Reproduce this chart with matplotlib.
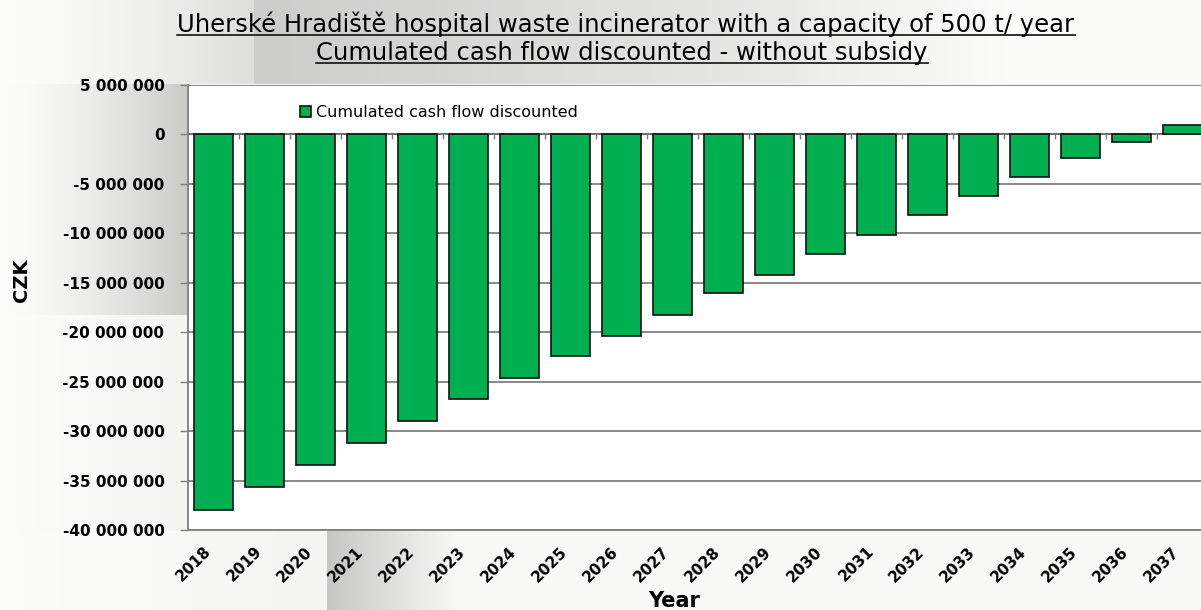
import numpy as np
import matplotlib
matplotlib.use("Agg")
import matplotlib.pyplot as plt
from matplotlib.lines import Line2D

# ---- data ----
years = [str(y) for y in range(2018, 2038)]
cash_flow = [-38.0e6, -35.7e6, -33.4e6, -31.2e6, -29.0e6, -26.8e6, -24.6e6,
             -22.4e6, -20.4e6, -18.3e6, -16.1e6, -14.2e6, -12.1e6, -10.2e6,
             -8.2e6, -6.2e6, -4.3e6, -2.4e6, -0.75e6, 0.95e6]
y_ticks = list(range(-40_000_000, 5_000_001, 5_000_000))
series_name = "Cumulated cash flow discounted"
title_line1 = "Uherské Hradiště hospital waste incinerator with a capacity of 500 t/ year"
title_line2 = "Cumulated cash flow discounted - without subsidy"

W, H = 1201, 610
fig = plt.figure(figsize=(W / 100, H / 100), dpi=100)

# ---- slide-like background ----
bg = np.full((H, W), 0.975)
xx = np.arange(W)[None, :].repeat(H, 0).astype(float)
yy = np.arange(H)[:, None].repeat(W, 1).astype(float)
# upper-left gradient
m = (xx < 190) & (yy < 315) & (yy >= 84)
bg[m] = (0.99 - 0.20 * (xx / 190) ** 1.5)[m]
m = (xx < 254) & (yy < 84)
bg[m] = (0.99 - 0.12 * (xx / 254) ** 1.5)[m]
# lower-left faint gradient
m = (xx < 190) & (yy >= 315)
bg[m] = (0.99 - 0.03 * (xx / 190))[m]
# top band
m = (yy < 84) & (xx >= 254) & (xx < 808)
bg[m] = (0.80 + 0.12 * ((xx - 254) / 554))[m]
m = (yy < 84) & (xx >= 808)
bg[m] = np.clip(0.93 + 0.07 * ((xx - 808) / 250), 0.93, 0.985)[m]
# bottom band
m = (yy > 530) & (xx >= 327) & (xx < 460)
bg[m] = (0.78 + 0.20 * ((xx - 327) / 133))[m]
m = (yy > 530) & (xx < 327)
bg[m] = (0.99 - 0.03 * (xx / 327))[m]
bgax = fig.add_axes([0, 0, 1, 1], zorder=-10)
bgax.imshow(np.dstack([bg, bg, bg * 0.995]), aspect="auto", extent=[0, 1, 0, 1])
bgax.axis("off")

# ---- main axes ----
ax = fig.add_axes([188 / W, 1 - 530 / H, 1020 / W, (530 - 84.7) / H])
ax.set_facecolor("white")
x = np.arange(len(years))
ax.bar(x, cash_flow, width=0.78, color="#00b050", edgecolor="#111111",
       linewidth=1.2, zorder=3, label=series_name)
ax.set_xlim(-0.5, len(years) - 0.5)
ax.set_ylim(y_ticks[0], y_ticks[-1])
ax.set_yticks(y_ticks)
ax.set_yticklabels([f"{v:,}".replace(",", " ") for v in y_ticks],
                   fontsize=11, fontweight="bold")
ax.yaxis.grid(True, color="#7f7f7f", linewidth=1.3, zorder=1)
ax.tick_params(axis="y", length=6, width=1.0, color="#7f7f7f", pad=11)
ax.set_xticks(x)
ax.set_xticklabels(years, rotation=45, ha="right", rotation_mode="default",
                   fontsize=11, fontweight="bold")
ax.tick_params(axis="x", length=0, pad=10)
for s in ["top", "right"]:
    ax.spines[s].set_visible(False)
ax.spines["left"].set_color("#7f7f7f")
ax.spines["left"].set_linewidth(1.3)
ax.spines["bottom"].set_color("#7f7f7f")
ax.spines["bottom"].set_linewidth(1.3)

# category-boundary tick marks along the zero line
bounds = x[:-1] + 0.5
tick_len = (y_ticks[-1] - y_ticks[0]) * 4.5 / 445
ax.vlines(bounds, 0, -tick_len, color="#7f7f7f", linewidth=1.0, zorder=2)
ax.axhline(0, color="#6f6f6f", linewidth=1.3, zorder=2)

# legend
ax.legend(loc="upper left", bbox_to_anchor=((294 - 188) / 1020, 1 - (99 - 84.7) / 445.3),
          frameon=False, fontsize=11.5, handlelength=0.65, handleheight=0.65,
          handletextpad=0.3, borderaxespad=0)

# axis titles
fig.text(674 / W, 1 - 601 / H, "Year", ha="center", va="center",
         fontsize=15, fontweight="bold")
fig.text(22 / W, 1 - 280 / H, "CZK", ha="center", va="center", rotation=90,
         fontsize=14, fontweight="bold")

# title (underlined)
t1 = fig.text(626 / W, 1 - 32 / H, title_line1, ha="center", va="baseline", fontsize=17.5)
t2 = fig.text(622 / W, 1 - 60 / H, title_line2, ha="center", va="baseline", fontsize=17.5)
fig.canvas.draw()
r = fig.canvas.get_renderer()
for t, base in ((t1, 32), (t2, 60)):
    bb = t.get_window_extent(r)
    yline = 1 - (base + 2.5) / H
    fig.add_artist(Line2D([bb.x0 / W, bb.x1 / W], [yline, yline],
                          transform=fig.transFigure, color="#111111", linewidth=1.2))

fig.savefig("out.png", dpi=100)
